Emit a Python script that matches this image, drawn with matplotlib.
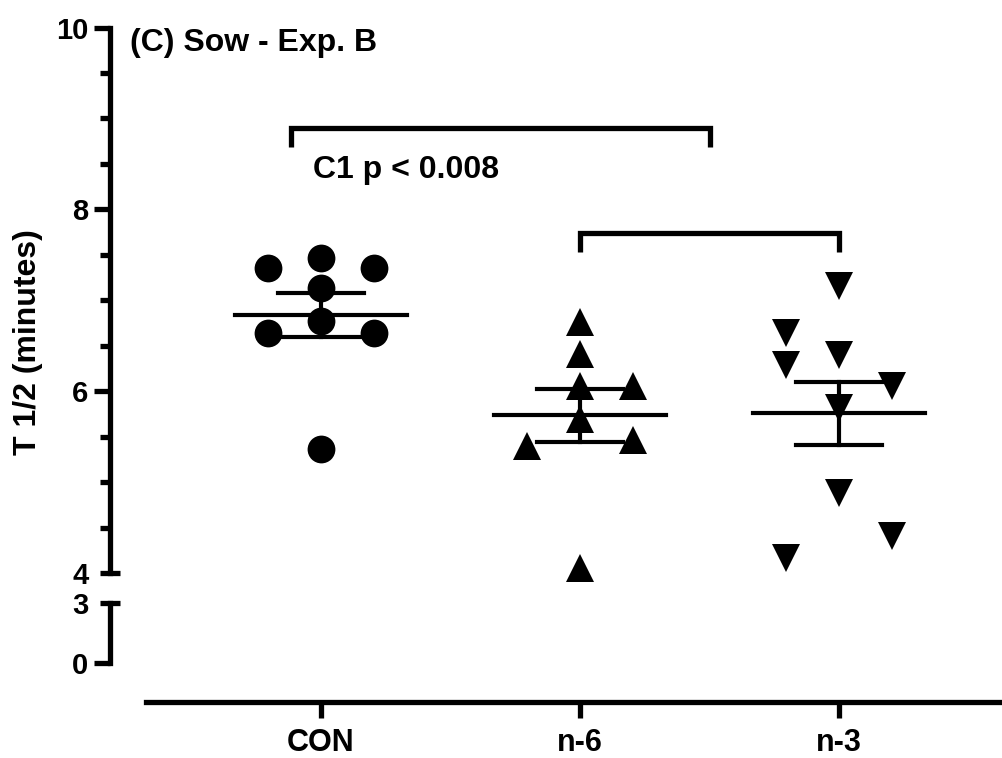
import numpy as np
import matplotlib
matplotlib.use("Agg")
import matplotlib.pyplot as plt

plt.rcParams['font.family'] = ['Liberation Sans', 'DejaVu Sans']
plt.rcParams['font.weight'] = 'bold'

# ---- data -------------------------------------------------------------
groups = ["CON", "n-6", "n-3"]
con_vals = [7.35, 7.47, 7.35, 7.13, 6.77, 6.64, 6.64, 5.36]
n6_vals = [6.76, 6.41, 6.055, 6.055, 5.69, 5.40, 5.46, 4.055]
n3_vals = [7.16, 6.64, 6.40, 6.29, 6.055, 5.82, 4.88, 4.41, 4.17]

# horizontal column (left / centre / right) of each point within its group
con_cols = [-1, 0, 1, 0, 0, -1, 1, 0]
n6_cols = [0, 0, 0, 1, 0, -1, 1, 0]
n3_cols = [0, -1, 0, -1, 1, 0, 0, 1, -1]

y_ticks_hi = [4, 6, 8, 10]
y_ticks_lo = [0, 3]
title = "(C) Sow - Exp. B"
p_label = "C1 p < 0.008"
y_label = "T 1/2 (minutes)"

# ---- layout ------------------------------------------------------------
W, H = 1003, 758
fig = plt.figure(figsize=(W / 100, H / 100), dpi=100)

def fy(p):
    return 1 - p / H

x0 = 109.7 / W
ax_hi = fig.add_axes([x0, fy(573), 1 - x0, (573 - 27.5) / H])
ax_lo = fig.add_axes([x0, fy(663), 1 - x0, (663 - 602.7) / H])

xlim = (-0.816, 2.633)
LW = 3.8
for ax in (ax_hi, ax_lo):
    ax.set_xlim(*xlim)
    ax.patch.set_visible(False)
    for s in ("top", "right"):
        ax.spines[s].set_visible(False)
    ax.spines["left"].set_linewidth(LW)
    ax.tick_params(axis="y", which="major", length=11.8, width=LW,
                   pad=3.5, labelsize=21)
    ax.tick_params(axis="y", which="minor", length=7, width=LW)

# upper segment
ax_hi.set_ylim(4, 10)
ax_hi.spines["left"].set_bounds(4, 10)
ax_hi.spines["bottom"].set_visible(False)
ax_hi.set_yticks(y_ticks_hi)
ax_hi.set_yticks(np.arange(4.5, 10, 0.5), minor=True)
ax_hi.set_xticks([])

# lower segment with category axis
ax_lo.set_ylim(0, 3)
ax_lo.spines["left"].set_bounds(0, 3)
ax_lo.set_yticks(y_ticks_lo)
ax_lo.spines["bottom"].set_position(("outward", 27.9))
ax_lo.spines["bottom"].set_linewidth(LW)
ax_lo.spines["bottom"].set_bounds(-0.676, xlim[1])
ax_lo.set_xticks(range(len(groups)))
ax_lo.set_xticklabels(groups)
ax_lo.tick_params(axis="x", length=11.7, width=LW, pad=7, labelsize=22)

# break caps at 4 and 3 replace the ordinary ticks
ax_hi.yaxis.get_major_ticks()[0].tick1line.set_visible(False)
ax_lo.yaxis.get_major_ticks()[1].tick1line.set_visible(False)
for ax, yv in ((ax_hi, 4), (ax_lo, 3)):
    ax.plot([0], [yv], marker="_", ms=14, mew=LW, color="k",
            transform=ax.get_yaxis_transform(), clip_on=False)

# ---- points, mean and SEM ----------------------------------------------
spread = 0.206
series = [(con_vals, con_cols, "o"), (n6_vals, n6_cols, "^"),
          (n3_vals, n3_cols, "v")]
for i, (vals, cols, mk) in enumerate(series):
    v = np.asarray(vals)
    xs = i + spread * np.asarray(cols)
    ax_hi.plot(xs, v, linestyle="none", marker=mk, ms=20, mew=0,
               color="k", clip_on=False, zorder=3)
    m = v.mean()
    sem = v.std(ddof=1) / np.sqrt(len(v))
    ax_hi.plot([i - 0.332, i + 0.332], [m, m], color="k", lw=3, zorder=4)
    ax_hi.plot([i - 0.166, i + 0.166], [m + sem, m + sem], color="k", lw=3, zorder=4)
    ax_hi.plot([i - 0.166, i + 0.166], [m - sem, m - sem], color="k", lw=3, zorder=4)
    ax_hi.plot([i, i], [m - sem, m + sem], color="k", lw=3, zorder=4)

# ---- significance brackets ---------------------------------------------
ax_hi.plot([-0.116, -0.116, 1.502, 1.502], [8.69, 8.89, 8.89, 8.69],
           color="k", lw=3.8, solid_joinstyle="miter", solid_capstyle="butt")
ax_hi.plot([1, 1, 2, 2], [7.53, 7.735, 7.735, 7.53],
           color="k", lw=3.8, solid_joinstyle="miter", solid_capstyle="butt")

# ---- text --------------------------------------------------------------
ax_hi.text(-0.737, 9.83, title, fontsize=23, fontweight="bold",
           ha="left", va="center")
ax_hi.text(-0.031, 8.43, p_label, fontsize=23, fontweight="bold",
           ha="left", va="center")
fig.text(28 / W, fy(342), y_label, rotation=90, fontsize=23,
         fontweight="bold", ha="center", va="center")

fig.savefig("out.png", dpi=100)
